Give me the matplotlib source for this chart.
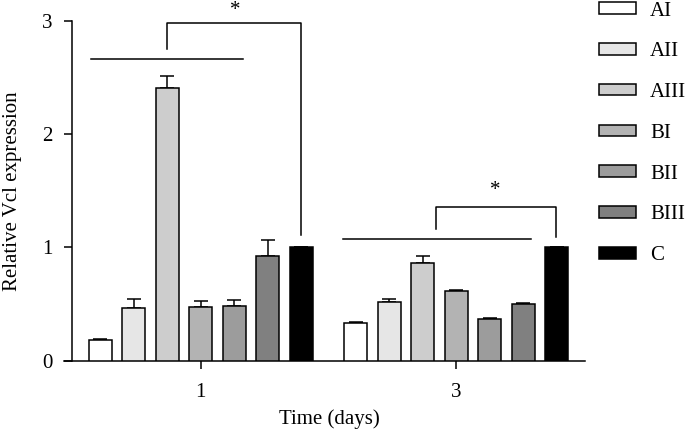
import numpy as np
import matplotlib
matplotlib.use('Agg')
import matplotlib.pyplot as plt

plt.rcParams['font.family'] = ['Liberation Serif', 'DejaVu Serif']

days = ['1', '3']
groups = ['AI', 'AII', 'AIII', 'BI', 'BII', 'BIII', 'C']
colors = ['#ffffff', '#e6e6e6', '#cdcdcd', '#b3b3b3', '#9c9c9c', '#808080', '#000000']

# mean per group, one list per day
means_d1 = [0.185, 0.467, 2.408, 0.478, 0.485, 0.925, 1.0]
means_d3 = [0.338, 0.517, 0.863, 0.620, 0.367, 0.502, 1.0]
# upper error (SEM)
err_d1 = [0.012, 0.080, 0.103, 0.048, 0.052, 0.144, 0.0]
err_d3 = [0.006, 0.028, 0.065, 0.008, 0.010, 0.010, 0.0]

means = np.array([means_d1, means_d3])
errs = np.array([err_d1, err_d3])

fig = plt.figure(figsize=(6.85, 4.32), dpi=100)
ax = fig.add_axes([0.0934, 0.1644, 0.7606, 0.7881])

step = 0.131
width = 0.09
x0 = np.arange(len(days))
handles = []
for i, g in enumerate(groups):
    xs = x0 + (i - 3) * step
    b = ax.bar(xs, means[:, i], width, color=colors[i], edgecolor='black',
               linewidth=1.1, label=g, zorder=3)
    handles.append(b)
    ax.errorbar(xs, means[:, i], yerr=[np.zeros(2), errs[:, i]], fmt='none',
                ecolor='black', elinewidth=1.1, capsize=5, capthick=1.1, zorder=2)

# significance marks
lw = 1.1
def sig(line_x, line_y, bx, btop, bleg, star_x, star_y):
    ax.plot(line_x, [line_y, line_y], color='black', lw=lw, clip_on=False)
    ax.plot([bx[0], bx[0], bx[1], bx[1]], [bleg[0], btop, btop, bleg[1]],
            color='black', lw=lw, clip_on=False)
    ax.text(star_x, star_y, '*', ha='center', va='center', fontsize=15,
            clip_on=False)

sig([-0.428, 0.166], 2.658, [-0.131, 0.393], 2.975, [2.746, 1.11], 0.135, 3.09)
sig([1 - 0.442, 1 + 0.292], 1.075, [1 - 0.079, 1 + 0.389], 1.36, [1.163, 1.09],
    1 + 0.151, 1.50)

ax.set_xlim(-0.534, 1.503)
ax.set_ylim(0, 3)
ax.set_xticks(x0)
ax.set_xticklabels(days)
ax.set_yticks([0, 1, 2, 3])
for s in ['top', 'right']:
    ax.spines[s].set_visible(False)
ax.spines['left'].set_position(('data', -0.502))
ax.spines['left'].set_linewidth(1.1)
ax.spines['bottom'].set_linewidth(1.1)
ax.tick_params(axis='both', length=5.8, width=1.1, labelsize=15, direction='out')
ax.tick_params(axis='y', pad=8.6)
ax.tick_params(axis='x', pad=10)
ax.set_xlabel('Time (days)', fontsize=15)
ax.set_ylabel('Relative Vcl expression', fontsize=15)
ax.xaxis.set_label_coords(0.5086, -0.142)
ax.yaxis.set_label_coords(-0.0806, 0.5)

fig.legend(handles=handles, labels=groups, loc='upper left',
           bbox_to_anchor=(0.8503, 1.035), frameon=False, fontsize=15,
           handlelength=1.78, handleheight=0.48, labelspacing=1.045,
           handletextpad=0.67, borderpad=0.3)

fig.savefig('out.png', dpi=100)
